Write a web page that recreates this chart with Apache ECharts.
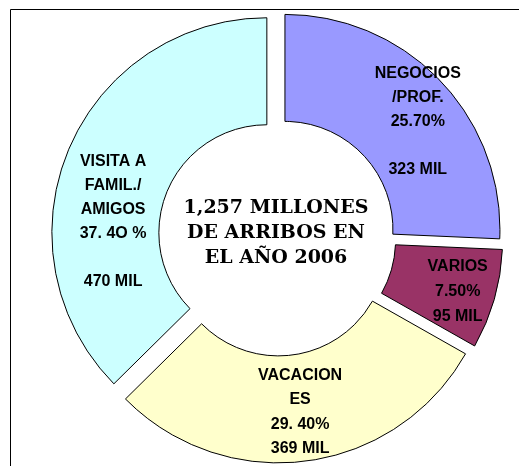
<!DOCTYPE html>
<html>
<head>
<meta charset="utf-8">
<script src="https://cdn.jsdelivr.net/npm/echarts@6/dist/echarts.min.js"></script>
<style>
html,body{margin:0;padding:0;background:#fff;}
#main{width:519px;height:466px;}
</style>
</head>
<body>
<div id="main"></div>
<script>
var categories = ['NEGOCIOS/PROF.', 'VARIOS', 'VACACIONES', 'VISITA A FAMIL./AMIGOS'];
var percents = [25.7, 7.5, 29.4, 37.4];
var milValues = [323, 95, 369, 470];
var labelTexts = [
  'NEGOCIOS\n/PROF.\n25.70%\n\n323 MIL',
  'VARIOS\n7.50%\n95 MIL',
  'VACACION\nES\n29. 40%\n369 MIL',
  'VISITA A\nFAMIL./\nAMIGOS\n37. 4O %\n\n470 MIL'
];
var centerText = '1,257 MILLONES\nDE ARRIBOS EN\nEL AÑO 2006';

var colors = ['#9999FF', '#993366', '#FFFFCC', '#CCFFFF'];
var labelShifts = [[14, 6], [12, 6], [0, 1], [-2, 52]];
var labelLineHeights = [24, 25, 24.5, 24];

var chart = echarts.init(document.getElementById('main'));
var data = categories.map(function (c, i) {
  return {
    name: c,
    value: percents[i],
    selected: true,
    itemStyle: { color: colors[i] },
    label: { formatter: labelTexts[i], lineHeight: labelLineHeights[i] }
  };
});

chart.setOption({
  animation: false,
  backgroundColor: '#ffffff',
  graphic: [
    {
      type: 'rect',
      z: -10,
      shape: { x: 10.5, y: 9.5, width: 700, height: 700 },
      style: { fill: 'none', stroke: '#000', lineWidth: 1 }
    },
    {
      type: 'text',
      z: 100,
      x: 276,
      y: 233,
      style: {
        text: centerText,
        fill: '#000',
        font: 'bold 19px "DejaVu Serif"',
        textAlign: 'center',
        textVerticalAlign: 'middle',
        lineHeight: 25
      }
    }
  ],
  series: [{
    type: 'pie',
    center: [277, 237],
    radius: [108, 215],
    startAngle: 90,
    clockwise: true,
    selectedMode: 'multiple',
    selectedOffset: 11,
    avoidLabelOverlap: false,
    itemStyle: { borderColor: '#000', borderWidth: 1 },
    label: {
      show: true,
      position: 'inside',
      rotate: 0,
      color: '#000',
      fontFamily: '"Liberation Sans", Arial, sans-serif',
      fontWeight: 'bold',
      fontSize: 16,
      lineHeight: 24,
      align: 'center'
    },
    labelLayout: function (params) {
      var s = labelShifts[params.dataIndex];
      return { dx: s[0], dy: s[1] };
    },
    labelLine: { show: false },
    emphasis: { disabled: true },
    data: data
  }]
});
</script>
</body>
</html>
